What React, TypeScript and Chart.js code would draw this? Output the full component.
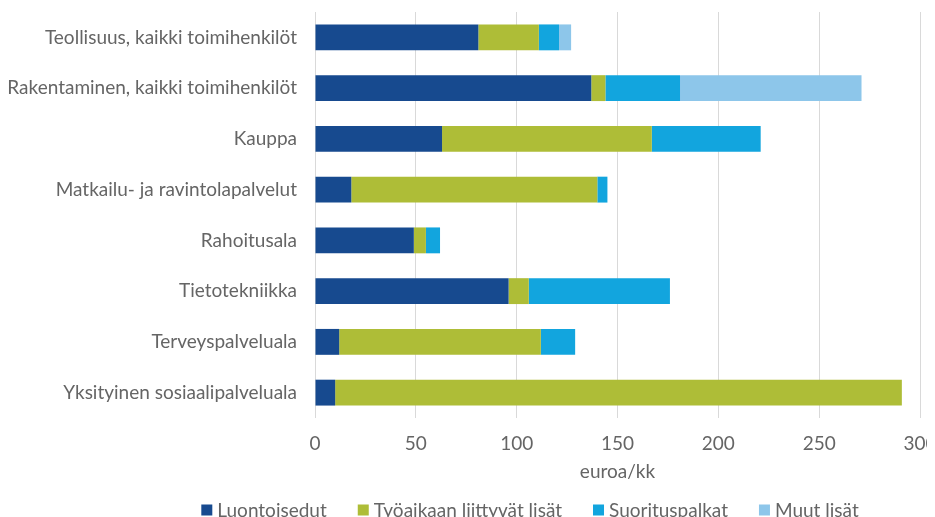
import React, { useEffect, useRef } from "react";
import { Chart, registerables } from "chart.js";

Chart.register(...registerables);

const categories = [
  "Teollisuus, kaikki toimihenkilöt",
  "Rakentaminen, kaikki toimihenkilöt",
  "Kauppa",
  "Matkailu- ja ravintolapalvelut",
  "Rahoitusala",
  "Tietotekniikka",
  "Terveyspalveluala",
  "Yksityinen sosiaalipalveluala",
];

const luontoisedut = [81, 137, 63, 18, 49, 96, 12, 10];
const tyoaikaanLiittyvat = [30, 7, 104, 122, 6, 10, 100, 281];
const suorituspalkat = [10, 37, 54, 5, 7, 70, 17, 0];
const muutLisat = [6, 90, 0, 0, 0, 0, 0, 0];

const seriesNames = ["Luontoisedut", "Työaikaan liittyvät lisät", "Suorituspalkat", "Muut lisät"];
const seriesColors = ["#174A8F", "#AEBD37", "#12A5DE", "#8DC6EA"];

const xMin = 0;
const xMax = 300;
const xStep = 50;
const xTitle = "euroa/kk";

const FONT = "Lato, 'Open Sans', sans-serif";
const TEXT = "#656565";
const FONT_SIZE = 19;
const W = 935;
const H = 509;

const legendPlugin = {
  id: "customLegend",
  afterDraw(chart: any) {
    const ctx = chart.ctx as CanvasRenderingContext2D;
    ctx.save();
    ctx.font = `${FONT_SIZE}px ${FONT}`;
    const box = 11;
    const boxGap = 5;
    const itemGap = 31;
    const items = chart.data.datasets.map((d: any) => ({
      text: d.label as string,
      color: d.backgroundColor as string,
      w: ctx.measureText(d.label).width,
    }));
    const total =
      items.reduce((s: number, it: any) => s + box + boxGap + it.w, 0) + itemGap * (items.length - 1);
    const centerX = 530;
    const centerY = 502;
    let x = centerX - total / 2;
    ctx.textBaseline = "middle";
    ctx.textAlign = "left";
    for (const it of items) {
      ctx.fillStyle = it.color;
      ctx.fillRect(x, centerY - 5.5, box, box);
      ctx.fillStyle = TEXT;
      ctx.fillText(it.text, x + box + boxGap, centerY + 1);
      x += box + boxGap + it.w + itemGap;
    }
    ctx.restore();
  },
};

export default function App() {
  const ref = useRef<HTMLCanvasElement | null>(null);

  useEffect(() => {
    if (!ref.current) return;
    const values = [luontoisedut, tyoaikaanLiittyvat, suorituspalkat, muutLisat];
    const chart = new Chart(ref.current, {
      type: "bar",
      data: {
        labels: categories,
        datasets: values.map((v, i) => ({
          label: seriesNames[i],
          data: v,
          backgroundColor: seriesColors[i],
          borderWidth: 0,
          barPercentage: 0.51,
          categoryPercentage: 1,
        })),
      },
      plugins: [legendPlugin],
      options: {
        indexAxis: "y",
        animation: false,
        responsive: false,
        maintainAspectRatio: false,
        devicePixelRatio: 1,
        layout: { padding: { top: 4, right: 15, left: 0, bottom: 34 } },
        plugins: {
          tooltip: { enabled: false },
          legend: { display: false },
        },
        scales: {
          x: {
            stacked: true,
            min: xMin,
            max: xMax,
            ticks: {
              stepSize: xStep,
              color: TEXT,
              padding: 14,
              font: { family: FONT, size: FONT_SIZE },
            },
            grid: { color: "#D9D9D9", lineWidth: 1, drawTicks: false },
            border: { display: false },
            title: {
              display: true,
              text: xTitle,
              color: TEXT,
              font: { family: FONT, size: FONT_SIZE },
              padding: { top: 0, bottom: 0 },
            },
            afterFit: (scale: any) => {
              scale.height = 65;
              scale.paddingLeft = 0;
              scale.paddingRight = 0;
              scale.paddingTop = 0;
              scale.paddingBottom = 0;
            },
          },
          y: {
            stacked: true,
            ticks: {
              color: TEXT,
              padding: 18,
              font: { family: FONT, size: FONT_SIZE },
            },
            grid: { display: false, drawTicks: false },
            border: { display: false },
            afterFit: (scale: any) => {
              scale.width = 315;
              scale.paddingLeft = 0;
              scale.paddingRight = 0;
              scale.paddingTop = 0;
              scale.paddingBottom = 0;
            },
          },
        },
      },
    });
    return () => chart.destroy();
  }, []);

  return (
    <div style={{ width: W, height: H, marginLeft: -8 }}>
      <canvas ref={ref} width={W} height={H} style={{ width: W, height: H, display: "block" }} />
    </div>
  );
}
